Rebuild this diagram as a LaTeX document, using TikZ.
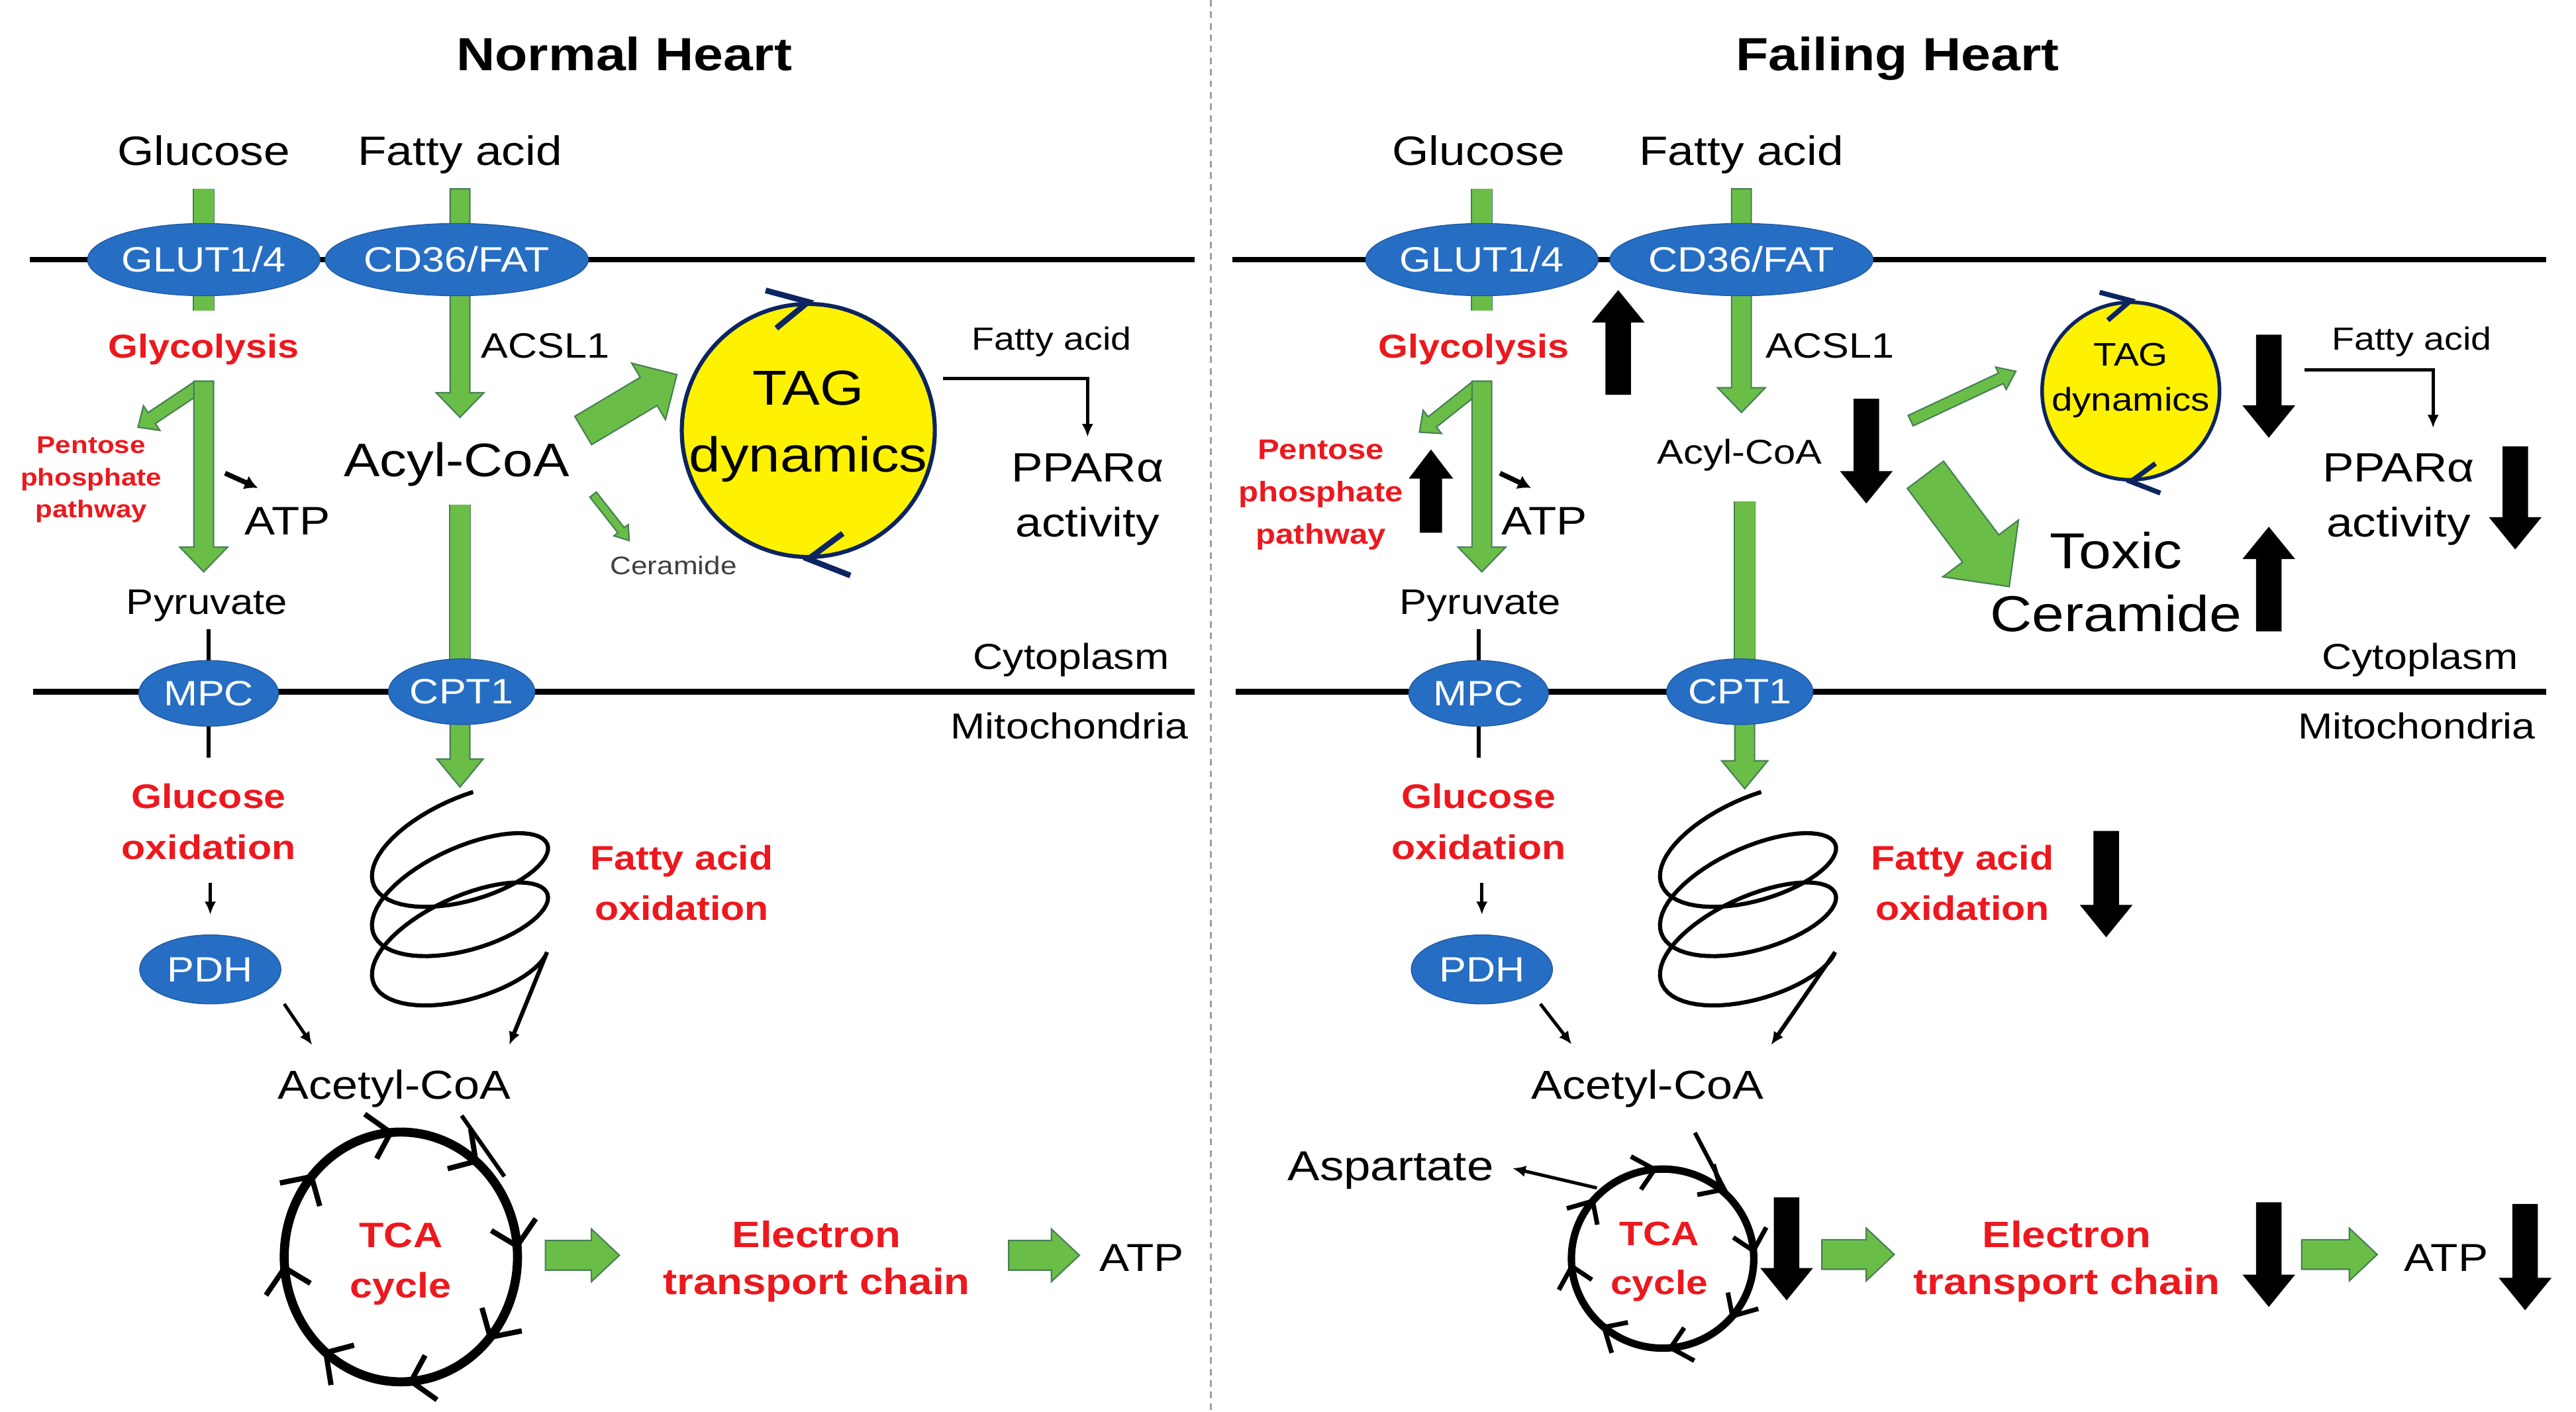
\documentclass[tikz,border=0pt]{standalone}
\usepackage{fontspec}
\setmainfont{Liberation Sans}[FakeStretch=1.15]
\usetikzlibrary{calc,arrows.meta,shapes.geometric}
\definecolor{flowgreen}{RGB}{106,190,72}
\definecolor{flowedge}{RGB}{72,128,84}
\definecolor{carrierblue}{RGB}{38,110,196}
\definecolor{tagnavy}{RGB}{12,36,96}
\definecolor{pathred}{RGB}{236,24,30}
\newdimen\unitpx \unitpx=0.02cm
\newcommand\fsz[2]{\fontsize{#1}{#2}\selectfont}
% block arrow: [style]{from}{to}{half shaft}{half head}{head length}, in px
\newcommand\fatarrow[6][gfat]{%
  \coordinate (fahead) at ($(#3)!#6*0.02cm!(#2)$);
  \draw[#1] ($(#2)!#4*0.02cm!90:(#3)$) -- ($(fahead)!#4*0.02cm!-90:(#2)$)
    -- ($(fahead)!#5*0.02cm!-90:(#2)$) -- (#3)
    -- ($(fahead)!#5*0.02cm!90:(#2)$) -- ($(fahead)!#4*0.02cm!90:(#2)$)
    -- ($(#2)!#4*0.02cm!-90:(#3)$) -- cycle;}

\begin{document}
\begin{tikzpicture}[x=0.02cm, y=-0.02cm,
    membrane/.style={line width=3.5\unitpx},
    divider/.style={draw=gray!75, line width=1.3\unitpx, dash pattern=on 4\unitpx off 3\unitpx},
    carrier/.style={ellipse, fill=carrierblue, draw=carrierblue!80!black, line width=0.3pt, text=white, inner sep=0, minimum height=44\unitpx, font=\fsz{12.2}{14}},
    gbar/.style={draw=flowgreen, line width=12\unitpx, preaction={draw=flowedge, line width=13.4\unitpx}},
    gfat/.style={fill=flowgreen, draw=flowedge, line width=0.5pt},
    bfat/.style={fill=black, draw=black, line width=0.3pt},
    txt/.style={inner sep=0, anchor=base, align=center},
    tagball/.style={circle, fill=yellow, draw=tagnavy, line width=2.5\unitpx, inner sep=0},
    tagchev/.style={draw=tagnavy, line width=3.5\unitpx},
    chev/.style={line width=3.2\unitpx},
    thinarr/.style={-{Latex[length=0.16cm,width=0.14cm]}, line width=2\unitpx},
    coilline/.style={line width=2.5\unitpx, -{Latex[length=0.16cm,width=0.14cm]}}]
\useasboundingbox (0,0) rectangle (1568,859);
\draw[divider] (737,0) -- (737,859);
\draw[membrane] (18,158) -- (727,158);
\draw[membrane] (20,421) -- (727,421);
\draw[membrane] (750,158) -- (1550,158);
\draw[membrane] (752,421) -- (1550,421);

% ---------------- Normal heart ----------------
\node[txt, font=\bfseries\fsz{16.1}{19}] (titleL) at (380,43) {Normal Heart};
\node[txt, font=\fsz{14.2}{17}] (glcL) at (124,100.5) {Glucose};
\node[txt, font=\fsz{14.2}{17}] (faL) at (280,100.5) {Fatty acid};

\coordinate (glcLa) at (124,115); \coordinate (glcLb) at (124,189);
\draw[gbar] (glcLa) -- (glcLb);
\coordinate (faLa) at (280,115); \coordinate (faLb) at (280,254);
\fatarrow{faLa}{faLb}{6}{14.5}{15}
\coordinate (pppLa) at (120,236); \coordinate (pppLb) at (84,260);
\fatarrow{pppLa}{pppLb}{4}{9}{10}
\coordinate (glyLa) at (124,232); \coordinate (glyLb) at (124,348);
\fatarrow{glyLa}{glyLb}{6}{14.5}{15}
\coordinate (acylLa) at (280,307); \coordinate (acylLb) at (280,405);
\draw[gbar] (acylLa) -- (acylLb);
\coordinate (cptLa) at (280,440); \coordinate (cptLb) at (280,479);
\fatarrow{cptLa}{cptLb}{6}{14}{17}
\coordinate (tagLa) at (355,262); \coordinate (tagLb) at (412,228);
\fatarrow{tagLa}{tagLb}{10}{20}{20}
\coordinate (cerLa) at (361,301); \coordinate (cerLb) at (383,329);
\fatarrow{cerLa}{cerLb}{2.5}{5.5}{8}
\coordinate (etcLa) at (332,764); \coordinate (etcLb) at (377,764);
\fatarrow{etcLa}{etcLb}{9}{16}{17}
\coordinate (atpLa) at (614,764); \coordinate (atpLb) at (657,764);
\fatarrow{atpLa}{atpLb}{9}{16}{17}

\node[carrier, minimum width=120\unitpx] (glutL) at (124,158) {GLUT1/4};
\node[carrier, minimum width=145\unitpx] (cd36L) at (278,158) {CD36/FAT};
\node[carrier, minimum width=85\unitpx, minimum height=40\unitpx] (mpcL) at (127,422) {MPC};
\node[carrier, minimum width=85\unitpx, minimum height=40\unitpx] (cpt1L) at (281,421) {CPT1};
\node[carrier, minimum width=86\unitpx, minimum height=42\unitpx] (pdhL) at (128,590) {PDH};

\node[txt, text=pathred, font=\bfseries\fsz{11.5}{14}] (glyL) at (124,218) {Glycolysis};
\node[txt, font=\fsz{12.2}{14}] (acslL) at (332,218) {ACSL1};
\node[txt, font=\fsz{16.3}{19}] (acylL) at (278,290) {Acyl-CoA};
\node[txt, text=pathred, font=\bfseries\fsz{8.4}{11.1}] (pppL) at (55.5,315) {Pentose\\phosphate\\pathway};
\node[txt, font=\fsz{13.8}{16}] (atpL) at (175,325.5) {ATP};
\node[txt, font=\fsz{12.3}{15}] (pyrL) at (126,374) {Pyruvate};
\node[tagball, minimum size=154\unitpx] (tagL) at (492,262) {};
\node[txt, font=\fsz{17}{23}] (tagLtext) at (492,287) {TAG\\dynamics};
\node[txt, font=\fsz{11.1}{13}] (fa2L) at (640,213) {Fatty acid};
\node[txt, font=\fsz{14.2}{19}] (pparL) at (662,326.5) {PPARα\\activity};
\node[txt, text=black!75, font=\fsz{8.8}{10}] (cerL) at (410,349.6) {Ceramide};
\node[txt, font=\fsz{12.5}{15}] (cytoL) at (652,407.4) {Cytoplasm};
\node[txt, font=\fsz{12.5}{15}] (mitoL) at (651,449.6) {Mitochondria};
\node[txt, text=pathred, font=\bfseries\fsz{11.8}{17.6}] (goxL) at (127,522.8) {Glucose\\oxidation};
\node[txt, text=pathred, font=\bfseries\fsz{11.8}{17.3}] (faoL) at (415,560) {Fatty acid\\oxidation};
\node[txt, font=\fsz{14}{17}] (acetylL) at (240,669) {Acetyl-CoA};
\node[draw, ellipse, line width=5.5\unitpx, minimum width=142\unitpx, minimum height=152\unitpx, inner sep=0] (tcaL) at (244,765) {};
\node[txt, text=pathred, font=\bfseries\fsz{12.2}{17.4}] (tcaLtext) at (244,789.7) {TCA\\cycle};
\node[txt, text=pathred, font=\bfseries\fsz{12.7}{16.4}] (etcL) at (497,788) {Electron\\transport chain};
\node[txt, font=\fsz{13.5}{16}] (atp2L) at (695,773.7) {ATP};

\draw[line width=2.5\unitpx] (mpcL.north) -- ([yshift=-4\unitpx]mpcL.north |- pyrL.south);
\draw[line width=2.5\unitpx] (mpcL.south) -- ++(0,19);
\draw[thinarr] ([yshift=-14\unitpx]pdhL.north |- goxL.south) -- ([yshift=12\unitpx]pdhL.north);
\coordinate (pdhLo) at (173,611); \coordinate (acetylLi) at (190,636);
\draw[thinarr] (pdhLo) -- (acetylLi);
\coordinate (atpLs) at (137,288); \coordinate (atpLt) at (157,297);
\draw[-{Latex[length=0.16cm,width=0.18cm]}, line width=3\unitpx] (atpLs) -- (atpLt);
\coordinate (tagLo) at (574,230.5); \coordinate (pparLi) at (662,266);
\draw[thinarr] (tagLo) -| (pparLi);
\draw[tagchev] (tagL.north) ++(-26,-7) -- ++(26,7) -- ++(-19.5,16);
\draw[tagchev] (tagL.south) ++(21,-15.6) -- ++(-21,15.6) -- ++(25.6,10);
% coil
\coordinate (coilL) at (280,482); \coordinate (coilLend) at (310,636);
\draw[coilline, shift={(coilL)}] plot[domain=0:990, samples=170] ({-53*sin(\x)+8*cos(\x)}, {27-27*cos(\x)+12*sin(\x)+\x/12}) -- (coilLend);
% TCA cycle
\coordinate (acetylLo) at (281,679); \coordinate (tcaLi) at (307,716);
\draw[line width=2.5\unitpx] (acetylLo) -- (tcaLi);
\foreach \ang in {-95,-50,...,220}
  \draw[chev] ($(tcaL)+({85*cos(\ang-10)},{90*sin(\ang-10)})$) -- ($(tcaL)+({71*cos(\ang)},{76*sin(\ang)})$) -- ($(tcaL)+({57*cos(\ang-10)},{62*sin(\ang-10)})$);

% ---------------- Failing heart ----------------
\node[txt, font=\bfseries\fsz{16.1}{19}] (titleR) at (1155,43) {Failing Heart};
\node[txt, font=\fsz{14.2}{17}] (glcR) at (900,100.5) {Glucose};
\node[txt, font=\fsz{14.2}{17}] (faR) at (1060,100.5) {Fatty acid};

\coordinate (glcRa) at (902,115); \coordinate (glcRb) at (902,189);
\draw[gbar] (glcRa) -- (glcRb);
\coordinate (faRa) at (1060,115); \coordinate (faRb) at (1060,251);
\fatarrow{faRa}{faRb}{6}{14.5}{15}
\coordinate (pppRa) at (898,236); \coordinate (pppRb) at (864,263);
\fatarrow{pppRa}{pppRb}{4}{9}{10}
\coordinate (glyRa) at (902,232); \coordinate (glyRb) at (902,348);
\fatarrow{glyRa}{glyRb}{6}{14.5}{15}
\coordinate (acylRa) at (1062,305); \coordinate (acylRb) at (1062,405);
\draw[gbar] (acylRa) -- (acylRb);
\coordinate (cptRa) at (1062,440); \coordinate (cptRb) at (1062,480);
\fatarrow{cptRa}{cptRb}{6}{14}{17}
\coordinate (tagRa) at (1163,256); \coordinate (tagRb) at (1227,226);
\fatarrow{tagRa}{tagRb}{3.5}{7.5}{10}
\coordinate (cerRa) at (1172,289); \coordinate (cerRb) at (1223,357);
\fatarrow{cerRa}{cerRb}{13.8}{28.8}{29}
\coordinate (etcRa) at (1109,763.5); \coordinate (etcRb) at (1153,763.5);
\fatarrow{etcRa}{etcRb}{9}{16}{17}
\coordinate (atpRa) at (1401,763.5); \coordinate (atpRb) at (1447,763.5);
\fatarrow{atpRa}{atpRb}{9}{16}{17}

\node[carrier, minimum width=123\unitpx] (glutR) at (902,158) {GLUT1/4};
\node[carrier, minimum width=142\unitpx] (cd36R) at (1060,158) {CD36/FAT};
\node[carrier, minimum width=85\unitpx, minimum height=40\unitpx] (mpcR) at (900,422) {MPC};
\node[carrier, minimum width=85\unitpx, minimum height=40\unitpx] (cpt1R) at (1059,421) {CPT1};
\node[carrier, minimum width=86\unitpx, minimum height=42\unitpx] (pdhR) at (902,590) {PDH};

\node[txt, text=pathred, font=\bfseries\fsz{11.5}{14}] (glyR) at (897,217.7) {Glycolysis};
\node[txt, font=\fsz{12.2}{14}] (acslR) at (1114,217.7) {ACSL1};
\node[txt, font=\fsz{11.9}{14}] (acylR) at (1059,282.5) {Acyl-CoA};
\node[txt, text=pathred, font=\bfseries\fsz{9.8}{14.7}] (pppR) at (804,331) {Pentose\\phosphate\\pathway};
\node[txt, font=\fsz{13.8}{16}] (atpR) at (940,325.3) {ATP};
\node[txt, font=\fsz{12.3}{15}] (pyrR) at (901,374) {Pyruvate};
\node[tagball, minimum size=108\unitpx, line width=2.2\unitpx] (tagR) at (1297,238) {};
\node[txt, font=\fsz{11.3}{15.7}] (tagRtext) at (1297,250.1) {TAG\\dynamics};
\node[txt, font=\fsz{11.1}{13}] (fa2R) at (1468,213) {Fatty acid};
\node[txt, font=\fsz{14.2}{19}] (pparR) at (1460,326.5) {PPARα\\activity};
\node[txt, font=\fsz{17.5}{21.7}] (toxR) at (1288,384.3) {Toxic\\Ceramide};
\node[txt, font=\fsz{12.5}{15}] (cytoR) at (1473,407.4) {Cytoplasm};
\node[txt, font=\fsz{12.5}{15}] (mitoR) at (1471,449.6) {Mitochondria};
\node[txt, text=pathred, font=\bfseries\fsz{11.8}{17.6}] (goxR) at (900,522.8) {Glucose\\oxidation};
\node[txt, text=pathred, font=\bfseries\fsz{11.8}{17.3}] (faoR) at (1194.5,560) {Fatty acid\\oxidation};
\node[txt, font=\fsz{14}{17}] (acetylR) at (1003,669) {Acetyl-CoA};
\node[txt, font=\fsz{14.5}{17}] (asparR) at (846.5,718.5) {Aspartate};
\node[draw, ellipse, line width=4.5\unitpx, minimum width=111\unitpx, minimum height=109\unitpx, inner sep=0] (tcaR) at (1012,766) {};
\node[txt, text=pathred, font=\bfseries\fsz{11.7}{17}] (tcaRtext) at (1010,788) {TCA\\cycle};
\node[txt, text=pathred, font=\bfseries\fsz{12.7}{16.4}] (etcR) at (1258,788) {Electron\\transport chain};
\node[txt, font=\fsz{13.5}{16}] (atp2R) at (1489,773.7) {ATP};

\draw[line width=2.5\unitpx] (mpcR.north) -- ([yshift=-4\unitpx]mpcR.north |- pyrR.south);
\draw[line width=2.5\unitpx] (mpcR.south) -- ++(0,19);
\draw[thinarr] ([yshift=-14\unitpx]pdhR.north |- goxR.south) -- ([yshift=12\unitpx]pdhR.north);
\coordinate (pdhRo) at (937.6,611); \coordinate (acetylRi) at (956.7,635.7);
\draw[thinarr] (pdhRo) -- (acetylRi);
\coordinate (atpRs) at (913,288); \coordinate (atpRt) at (932,297);
\draw[-{Latex[length=0.16cm,width=0.18cm]}, line width=3\unitpx] (atpRs) -- (atpRt);
\coordinate (tagRo) at (1402.6,225); \coordinate (pparRi) at (1481,260.5);
\draw[thinarr] (tagRo) -| (pparRi);
\draw[tagchev, line width=3\unitpx] (tagR.north) ++(-19,-5) -- ++(19,5) -- ++(-14,12);
\draw[tagchev, line width=3\unitpx] (tagR.south) ++(15,-11) -- ++(-15,11) -- ++(18,7);
% coil
\coordinate (coilR) at (1064,482); \coordinate (coilRend) at (1078,636);
\draw[coilline, shift={(coilR)}] plot[domain=0:990, samples=170] ({-53*sin(\x)+8*cos(\x)}, {27-27*cos(\x)+12*sin(\x)+\x/12}) -- (coilRend);
% TCA cycle
\coordinate (acetylRo) at (1031.7,689.4); \coordinate (tcaRi) at (1052.3,728.7);
\draw[line width=2.5\unitpx] (acetylRo) -- (tcaRi);
\coordinate (tcaRo) at (972,723); \coordinate (asparRi) at (920.6,711);
\draw[thinarr] (tcaRo) -- (asparRi);
\foreach \ang in {-95,-50,...,220}
  \draw[chev, line width=2.8\unitpx] ($(tcaR)+({66*cos(\ang-12)},{65*sin(\ang-12)})$) -- ($(tcaR)+({55.5*cos(\ang)},{54.5*sin(\ang)})$) -- ($(tcaR)+({45*cos(\ang-12)},{44*sin(\ang-12)})$);

% changes in the failing heart
\fatarrow[bfat]{985,240}{985,177}{7.5}{15.5}{19}
\fatarrow[bfat]{1136,243}{1136,306}{7.5}{15.5}{19}
\fatarrow[bfat]{871,324}{871,274}{6.5}{13}{17}
\fatarrow[bfat]{1381,204}{1381,266}{7.5}{15.5}{19}
\fatarrow[bfat]{1531,272}{1531,334}{7.5}{15.5}{19}
\fatarrow[bfat]{1381,384}{1381,321}{7.5}{15.5}{19}
\fatarrow[bfat]{1282,506}{1282,570}{7.5}{15.5}{19}
\fatarrow[bfat]{1087.5,729}{1087.5,791}{7.5}{15.5}{19}
\fatarrow[bfat]{1381,732}{1381,795}{7.5}{15.5}{19}
\fatarrow[bfat]{1537,733}{1537,797}{7.5}{15.5}{19}
\end{tikzpicture}
\end{document}
